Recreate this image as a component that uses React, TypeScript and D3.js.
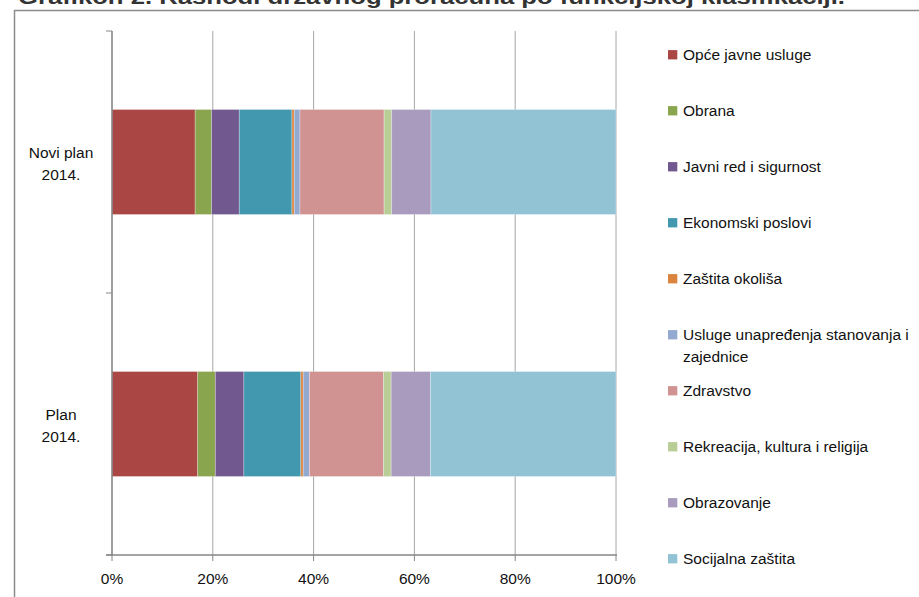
import React from "react";
import * as d3 from "d3";

const categories = ["Novi plan\n2014.", "Plan\n2014."];
const seriesNames = [
  "Opće javne usluge",
  "Obrana",
  "Javni red i sigurnost",
  "Ekonomski poslovi",
  "Zaštita okoliša",
  "Usluge unapređenja stanovanja i\nzajednice",
  "Zdravstvo",
  "Rekreacija, kultura i religija",
  "Obrazovanje",
  "Socijalna zaštita",
];
const seriesColors = [
  "#AA4643",
  "#89A54E",
  "#71588F",
  "#4198AF",
  "#DB843D",
  "#93A9CF",
  "#D19392",
  "#B9CD96",
  "#A99BBD",
  "#92C3D5",
];
// shares (%) per category, in series order
const noviPlanValues = [16.5, 3.25, 5.5, 10.45, 0.46, 1.13, 16.7, 1.5, 7.8, 36.71];
const planValues = [17.0, 3.5, 5.67, 11.3, 0.47, 1.25, 14.7, 1.5, 7.8, 36.81];
const tickValues = [0, 0.2, 0.4, 0.6, 0.8, 1.0];
const titleText = "Grafikon 2. Rashodi državnog proračuna po funkcijskoj klasifikaciji.";

const W = 919;
const H = 597;
const FONT = "'Liberation Sans', Arial, sans-serif";

export default function App() {
  const values = [noviPlanValues, planValues];
  const x = d3.scaleLinear().domain([0, 1]).range([112, 616]);
  const y = d3.scaleBand().domain(categories).range([31, 555]).paddingInner(0).paddingOuter(0);
  const barH = 105;

  const stacked = values.map((vals) => {
    const total = d3.sum(vals);
    const cum = d3.cumsum(vals);
    return vals.map((v, i) => ({ x0: (cum[i] - v) / total, x1: cum[i] / total, i }));
  });

  const legendY = (i: number) => 54.7 + i * 56;

  return (
    <svg
      width={W}
      height={H}
      style={{ position: "fixed", left: 0, top: 0, background: "#fff" }}
      fontFamily={FONT}
    >
      <rect x={0} y={0} width={W} height={H} fill="#fff" />
      {/* title (cut off at top, as in the reference) */}
      <text
        x={18}
        y={4}
        fontSize={20}
        fontWeight="bold"
        fill="#333"
        textLength={827}
        lengthAdjust="spacingAndGlyphs"
      >
        {titleText}
      </text>
      {/* frame */}
      <path d={`M14.5,${H + 2} L14.5,10.5 L${W + 2},10.5`} fill="none" stroke="#8c8c8c" strokeWidth={1.5} />

      {/* gridlines */}
      {tickValues.slice(1).map((t) => (
        <line key={"g" + t} x1={x(t)} x2={x(t)} y1={31} y2={555} stroke="#a6a6a6" strokeWidth={1} />
      ))}

      {/* bars */}
      {stacked.map((segs, ci) => {
        const cy = (y(categories[ci]) as number) + y.bandwidth() / 2;
        return (
          <g key={"c" + ci}>
            {segs.map((s) => (
              <rect
                key={s.i}
                x={x(s.x0)}
                y={cy - barH / 2}
                width={x(s.x1) - x(s.x0)}
                height={barH}
                fill={seriesColors[s.i]}
                stroke="#ffffff"
                strokeOpacity={0.35}
                strokeWidth={0.8}
              />
            ))}
          </g>
        );
      })}

      {/* y axis */}
      <line x1={112} x2={112} y1={31} y2={556} stroke="#868686" strokeWidth={1.6} />
      {[31, 293, 555].map((yy) => (
        <line key={"yt" + yy} x1={106} x2={112} y1={yy} y2={yy} stroke="#868686" strokeWidth={1} />
      ))}
      {/* x axis */}
      <line x1={106} x2={617} y1={555} y2={555} stroke="#868686" strokeWidth={1.6} />
      {tickValues.map((t) => (
        <line key={"xt" + t} x1={x(t)} x2={x(t)} y1={555} y2={561} stroke="#868686" strokeWidth={1} />
      ))}
      {tickValues.map((t) => (
        <text key={"xl" + t} x={x(t)} y={584} fontSize={15.5} textAnchor="middle" fill="#111">
          {d3.format(".0%")(t)}
        </text>
      ))}

      {/* category labels */}
      {categories.map((c) => {
        const cy = (y(c) as number) + y.bandwidth() / 2;
        const lines = c.split("\n");
        return (
          <text key={c} x={61} fontSize={15.5} textAnchor="middle" fill="#111">
            {lines.map((l, li) => (
              <tspan key={li} x={61} y={cy + 7 + (li - (lines.length - 1) / 2) * 22}>
                {l}
              </tspan>
            ))}
          </text>
        );
      })}

      {/* legend */}
      {seriesNames.map((n, i) => {
        const ly = legendY(i);
        const lines = n.split("\n");
        return (
          <g key={"l" + i}>
            <rect x={668} y={ly - 4.6} width={9.3} height={9.3} fill={seriesColors[i]} />
            <text x={683} fontSize={15.5} fill="#111">
              {lines.map((l, li) => (
                <tspan key={li} x={683} y={ly + 5.5 + li * 22}>
                  {l}
                </tspan>
              ))}
            </text>
          </g>
        );
      })}
    </svg>
  );
}
